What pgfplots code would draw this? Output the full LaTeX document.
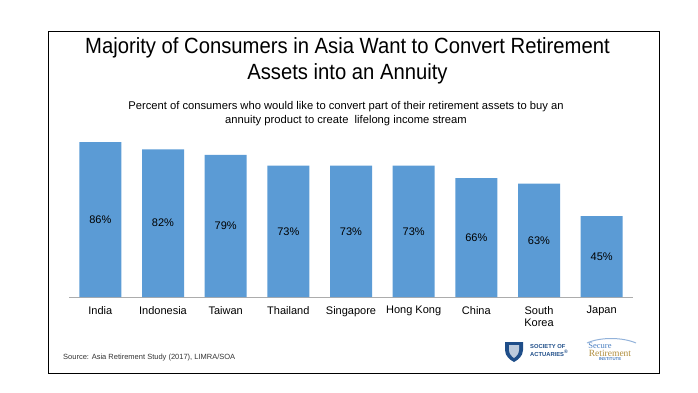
\documentclass[border=0pt]{standalone}
\usepackage{pgfplots}
\pgfplotsset{compat=1.18}
\usepackage{fontspec}
\setmainfont{Liberation Sans}
\newfontfamily\titlefont[FakeStretch=0.92]{Liberation Sans}
\newfontfamily\seriffont{Liberation Serif}
\definecolor{barblue}{HTML}{5B9BD5}
\definecolor{socblue}{HTML}{1F4E89}
\definecolor{srigold}{HTML}{B08D3C}
\definecolor{sriblue}{HTML}{4A7FC1}
\begin{document}
\begin{tikzpicture}[x=1pt,y=1pt]
\useasboundingbox (0,0) rectangle (698,392);
% frame
\draw[black, line width=1pt] (48,360) rectangle (659,19);
% titles
\node[anchor=base, font=\titlefont\fontsize{22}{26}\selectfont] at (347.5,339) {Majority of Consumers in Asia Want to Convert Retirement};
\node[anchor=base, font=\titlefont\fontsize{22}{26}\selectfont] at (347.5,312.5) {Assets into an Annuity};
\node[anchor=base, font=\fontsize{11.2}{13}\selectfont] at (346,283) {Percent of consumers who would like to convert part of their retirement assets to buy an};
\node[anchor=base, font=\fontsize{11.2}{13}\selectfont] at (346,268.5) {annuity product to create\ \ lifelong income stream};
\begin{axis}[
  at={(69pt,95pt)}, anchor=south west,
  scale only axis, width=564pt, height=162pt,
  xmin=-0.5, xmax=8.5, ymin=0, ymax=90,
  enlargelimits=false, clip=false,
  axis y line=none, axis x line=bottom,
  x axis line style={-, draw=gray!65, line width=0.9pt},
  xtick={0,...,8}, ytick=\empty,
  major tick length=0pt,
  xticklabels={India, Indonesia, Taiwan, Thailand, Singapore, Hong Kong, China, {South\\Korea}, Japan},
  xticklabel style={align=center, font=\fontsize{11}{12}\selectfont, yshift=-5.5pt},
  ybar, bar width=42pt,
  /pgf/number format/assume math mode=true,
  visualization depends on={y \as \rawy},
  nodes near coords={\pgfmathprintnumber{\rawy}\%},
  nodes near coords style={anchor=center, font=\fontsize{11}{12}\selectfont, yshift=-0.9*\rawy pt},
]
\addplot[fill=barblue, draw=none] coordinates {
  (0,86) (1,82) (2,79) (3,73) (4,73) (5,73) (6,66) (7,63) (8,45)
};
\end{axis}
% source
\node[anchor=base west, font=\fontsize{7.5}{9}\selectfont, text=black!80, inner sep=0pt] at (63,33) {Source: Asia Retirement Study (2017), LIMRA/SOA};
% Society of Actuaries logo
\fill[socblue] (505,50) -- (523,50) -- (523,42) .. controls (523,36) and (518,32) .. (514,30) .. controls (510,32) and (505,36) .. (505,42) -- cycle;
\fill[white!70!socblue] (509,47) -- (519,47) -- (519,42) .. controls (519,38) and (516,35.5) .. (514,34) .. controls (512,35.5) and (509,38) .. (509,42) -- cycle;
\node[anchor=west, font=\bfseries\fontsize{5.8}{6}\selectfont, text=socblue, inner sep=0pt] at (530,45.5) {SOCIETY OF};
\node[anchor=west, font=\bfseries\fontsize{5.8}{6}\selectfont, text=socblue, inner sep=0pt] at (530,38.5) {ACTUARIES\textsuperscript{\tiny\textregistered}};
% Secure Retirement Institute logo
\draw[sriblue!60, line width=1pt] (587,49) .. controls (600,55) and (622,55) .. (636,49);
\node[font=\seriffont\fontsize{8.5}{9}\selectfont, text=sriblue, inner sep=0pt] at (600,46.5) {Secure};
\node[font=\seriffont\fontsize{9.5}{10}\selectfont, text=srigold, inner sep=0pt] at (610,39) {Retirement};
\node[font=\bfseries\fontsize{4.3}{5}\selectfont, text=sriblue, inner sep=0pt] at (610,32.5) {INSTITUTE};
\end{tikzpicture}
\end{document}
